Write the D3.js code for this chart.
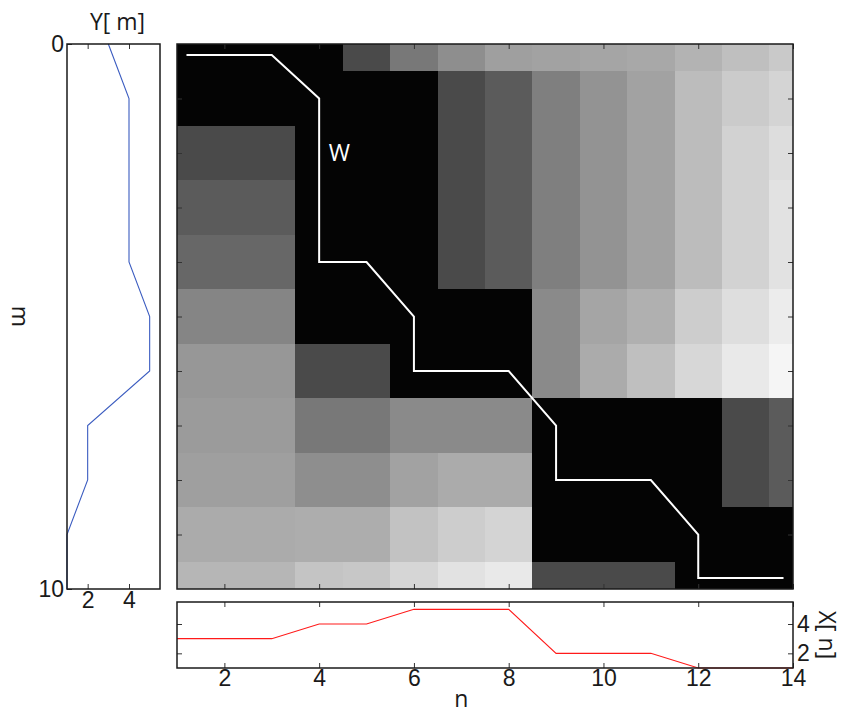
<!DOCTYPE html>
<html>
<head>
<meta charset="utf-8">
<script src="https://cdn.jsdelivr.net/npm/d3@7"></script>
<style>
    body { margin: 0; background: #fff; }
    svg { display: block; font-family: "Open Sans", sans-serif; }
    .axis text { font-size: 23px; fill: #1a1a1a; }
    .axis line { stroke: #333; }
</style>
</head>
<body>
<div id="chart"></div>
<script>
// sample indices
const nValues = [1, 2, 3, 4, 5, 6, 7, 8, 9, 10, 11, 12, 13, 14];
const mValues = [0, 1, 2, 3, 4, 5, 6, 7, 8, 9, 10];

// the two sequences
const X = [3, 3, 3, 4, 4, 5, 5, 5, 2, 2, 2, 1, 1, 1];
const Y = [3, 4, 4, 4, 4, 5, 5, 2, 2, 1, 1];

// accumulated cost, one row per m
const cost = [
    [0, 0, 0, 1, 2, 6, 10, 14, 15, 16, 17, 21, 25, 29],
    [1, 1, 1, 0, 0, 1, 2, 3, 7, 11, 15, 24, 30, 34],
    [2, 2, 2, 0, 0, 1, 2, 3, 7, 11, 15, 24, 33, 39],
    [3, 3, 3, 0, 0, 1, 2, 3, 7, 11, 15, 24, 33, 42],
    [4, 4, 4, 0, 0, 1, 2, 3, 7, 11, 15, 24, 33, 42],
    [8, 8, 8, 1, 1, 0, 0, 0, 9, 16, 20, 31, 40, 49],
    [12, 12, 12, 2, 2, 0, 0, 0, 9, 18, 25, 36, 47, 56],
    [13, 13, 13, 6, 6, 9, 9, 9, 0, 0, 0, 1, 2, 3],
    [14, 14, 14, 10, 10, 15, 18, 18, 0, 0, 0, 1, 2, 3],
    [18, 18, 18, 19, 19, 26, 31, 34, 1, 1, 1, 0, 0, 0],
    [22, 22, 22, 27, 28, 35, 42, 47, 2, 2, 2, 0, 0, 0]
];

// warping path W
const pathN = [1.2, 2, 3, 4, 4, 4, 4, 5, 6, 6, 7, 8, 9, 9, 10, 11, 12, 12, 13, 13.8];
const pathM = [0.2, 0.2, 0.2, 1, 2, 3, 4, 4, 5, 6, 6, 6, 7, 8, 8, 8, 9, 9.8, 9.8, 9.8];

// ticks
const nTicks = [2, 4, 6, 8, 10, 12, 14];
const mTicks = [1, 2, 3, 4, 5, 6, 7, 8, 9];
const mLabelTicks = [0, 10];
const valueTicks = [2, 4];

const width = 844;
const height = 714;

const svg = d3.select('#chart').append('svg')
    .attr('width', width)
    .attr('height', height);

const main = { left: 177, right: 793, top: 44, bottom: 589 };
const side = { left: 67, right: 160, top: 44, bottom: 589 };
const low = { left: 177, right: 793, top: 602, bottom: 668 };

const xN = d3.scaleLinear().domain([1, 14]).range([main.left, main.right]);
const yM = d3.scaleLinear().domain([0, 10]).range([main.top, main.bottom]);
const xY = d3.scaleLinear().domain([1, 5.5]).range([side.left, side.right]);
const yX = d3.scaleLinear().domain([1, 5.5]).range([low.bottom, low.top]);

const gray = d3.scaleLog()
    .domain([1, 2, 10, 20, 56])
    .range(['#040404', '#4a4a4a', '#8e8e8e', '#b0b0b0', '#f5f5f5'])
    .clamp(true);

// heatmap
svg.append('clipPath').attr('id', 'clip-main')
    .append('rect')
    .attr('x', main.left).attr('y', main.top)
    .attr('width', main.right - main.left)
    .attr('height', main.bottom - main.top);

const cells = [];
cost.forEach((row, i) => {
    row.forEach((v, j) => cells.push({ n: nValues[j], m: mValues[i], v }));
});

svg.append('g')
    .attr('clip-path', 'url(#clip-main)')
    .selectAll('rect')
    .data(cells)
    .join('rect')
    .attr('x', d => xN(d.n - 0.5))
    .attr('y', d => yM(d.m - 0.5))
    .attr('width', d => xN(d.n + 0.5) - xN(d.n - 0.5) + 0.5)
    .attr('height', d => yM(d.m + 0.5) - yM(d.m - 0.5) + 0.5)
    .attr('shape-rendering', 'crispEdges')
    .attr('fill', d => gray(Math.max(d.v, 1)));

svg.append('path')
    .datum(pathN.map((n, i) => [n, pathM[i]]))
    .attr('fill', 'none')
    .attr('stroke', '#fff')
    .attr('stroke-width', 2)
    .attr('d', d3.line().x(d => xN(d[0])).y(d => yM(d[1])));

svg.append('text')
    .attr('x', xN(4.2))
    .attr('y', yM(2))
    .attr('dy', '0.36em')
    .attr('fill', '#fff')
    .style('font-size', '23px')
    .text('W');

function inwardAxis(axis, translate, ticks, withLabels, padding) {
    const g = svg.append('g')
        .attr('class', 'axis')
        .attr('transform', translate)
        .call(axis.tickValues(ticks).tickSize(-5).tickSizeOuter(0).tickPadding(padding || 4)
            .tickFormat(withLabels ? d3.format('d') : ''));
    g.select('.domain').remove();
    return g;
}

function frame(box) {
    svg.append('rect')
        .attr('x', box.left).attr('y', box.top)
        .attr('width', box.right - box.left)
        .attr('height', box.bottom - box.top)
        .attr('fill', 'none')
        .attr('stroke', '#1a1a1a')
        .attr('stroke-width', 1.5);
}

// main axes: ticks only
inwardAxis(d3.axisTop(xN), `translate(0,${main.top})`, nTicks, false);
inwardAxis(d3.axisBottom(xN), `translate(0,${main.bottom})`, nTicks, false);
inwardAxis(d3.axisLeft(yM), `translate(${main.left},0)`, mTicks, false);
inwardAxis(d3.axisRight(yM), `translate(${main.right},0)`, mTicks, false);
frame(main);

// left panel: Y[m] against m
svg.append('path')
    .datum(Y.map((v, i) => [v, mValues[i]]))
    .attr('fill', 'none')
    .attr('stroke', '#3b5cc0')
    .attr('stroke-width', 1.1)
    .attr('d', d3.line().x(d => xY(d[0])).y(d => yM(d[1])));

inwardAxis(d3.axisTop(xY), `translate(0,${side.top})`, valueTicks, false);
inwardAxis(d3.axisBottom(xY), `translate(0,${side.bottom})`, valueTicks, true, 3);
inwardAxis(d3.axisLeft(yM), `translate(${side.left},0)`, mLabelTicks, true, 3);
frame(side);

svg.append('text')
    .attr('x', (side.left + side.right) / 2 + 4)
    .attr('y', 30)
    .attr('text-anchor', 'middle')
    .style('font-size', '23px')
    .attr('fill', '#1a1a1a')
    .text('Y[ m]');

svg.append('text')
    .attr('transform', `translate(20,${(side.top + side.bottom) / 2}) rotate(90)`)
    .attr('text-anchor', 'middle')
    .attr('dy', '0.35em')
    .style('font-size', '23px')
    .attr('fill', '#1a1a1a')
    .text('m');

// bottom panel: X[n] against n
svg.append('path')
    .datum(X.map((v, i) => [nValues[i], v]))
    .attr('fill', 'none')
    .attr('stroke', '#ff1a1a')
    .attr('stroke-width', 1.1)
    .attr('d', d3.line().x(d => xN(d[0])).y(d => yX(d[1])));

inwardAxis(d3.axisTop(xN), `translate(0,${low.top})`, nTicks, false);
inwardAxis(d3.axisBottom(xN), `translate(0,${low.bottom})`, nTicks, true, 2);
inwardAxis(d3.axisLeft(yX), `translate(${low.left},0)`, valueTicks, false);
inwardAxis(d3.axisRight(yX), `translate(${low.right},0)`, valueTicks, true, 4);
frame(low);

svg.append('text')
    .attr('x', xN(7))
    .attr('y', 699)
    .attr('dy', '0.35em')
    .attr('text-anchor', 'middle')
    .style('font-size', '23px')
    .attr('fill', '#1a1a1a')
    .text('n');

svg.append('text')
    .attr('transform', `translate(827,${(low.top + low.bottom) / 2}) rotate(90)`)
    .attr('text-anchor', 'middle')
    .attr('dy', '0.35em')
    .style('font-size', '23px')
    .attr('fill', '#1a1a1a')
    .text('X[ n]');
</script>
</body>
</html>
